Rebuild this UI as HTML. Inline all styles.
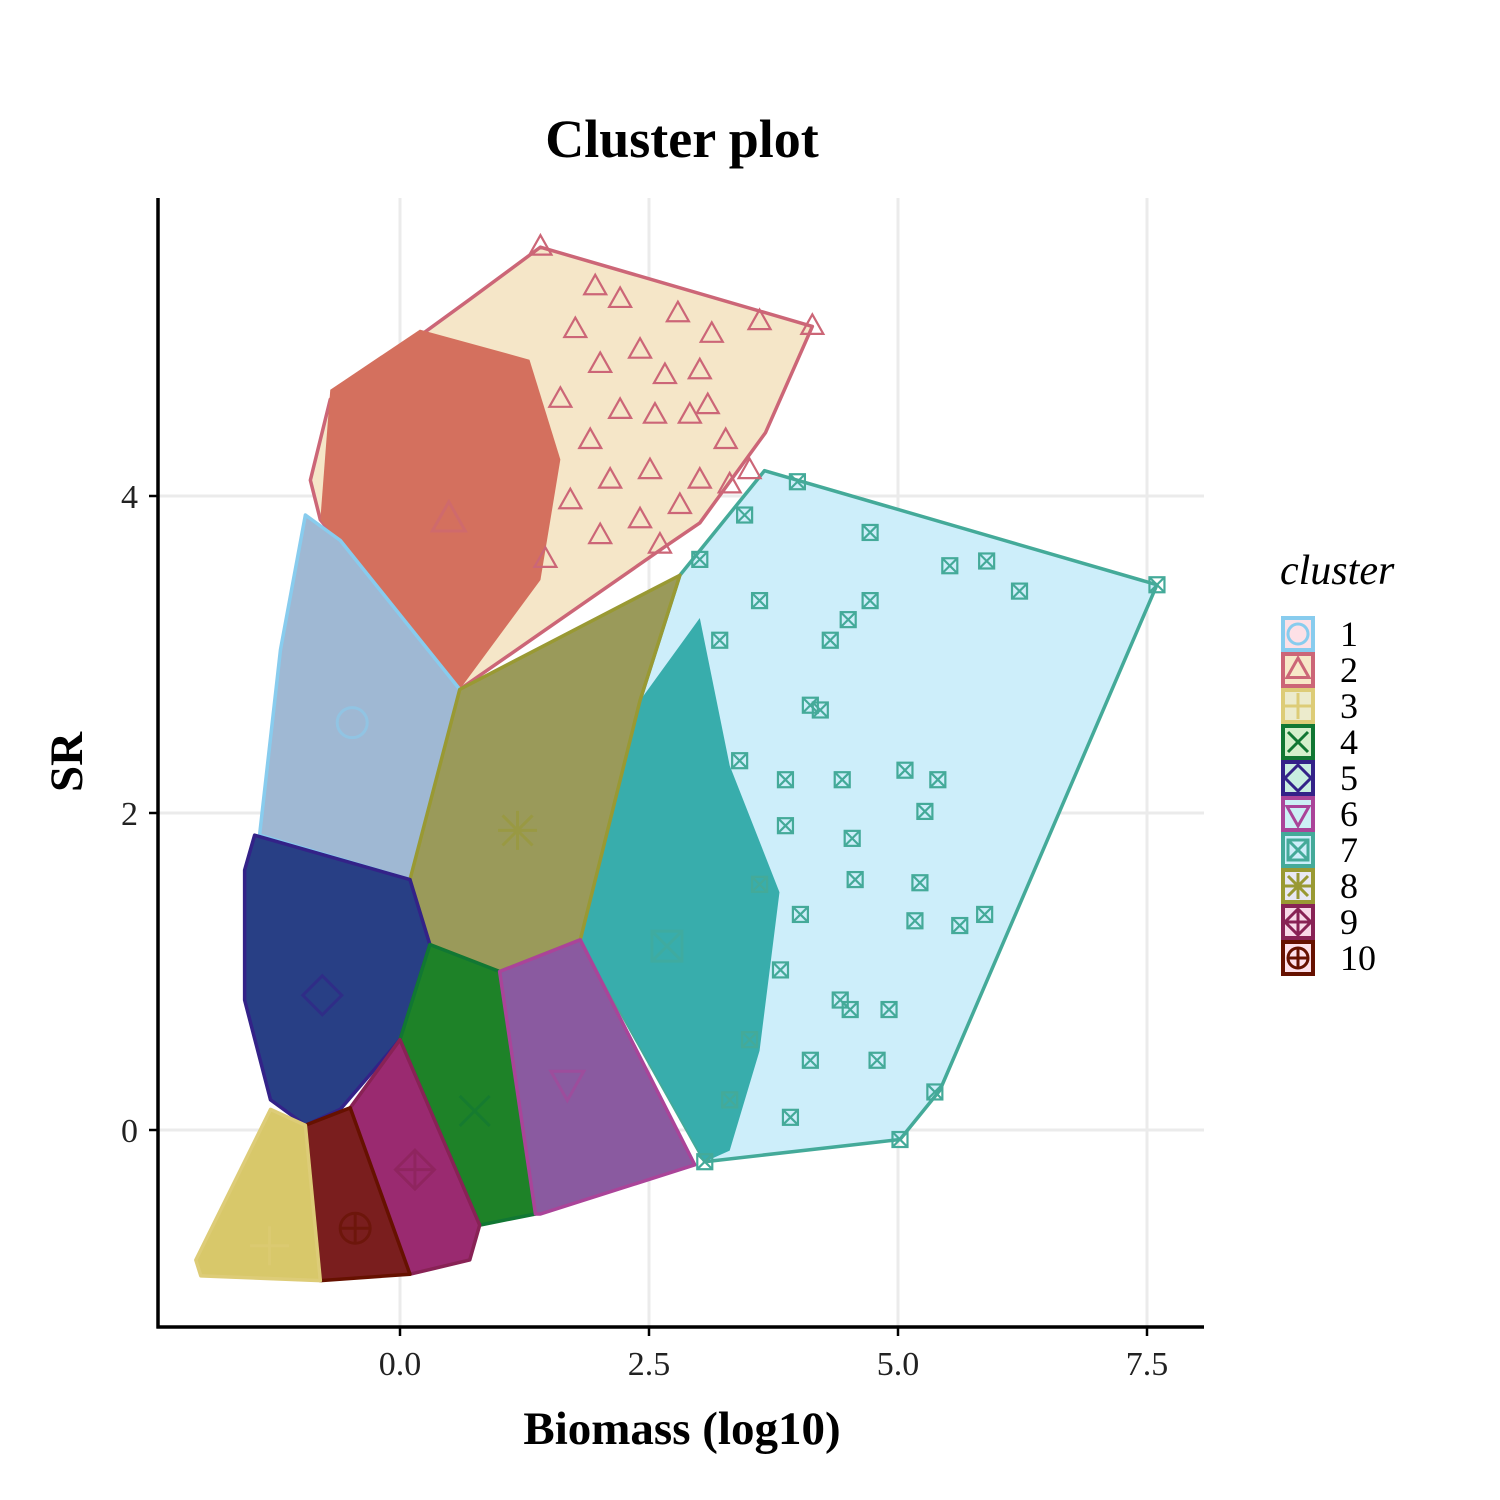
<!DOCTYPE html>
<html><head><meta charset="utf-8"><style>
html,body{margin:0;padding:0;background:#fff}
svg{display:block;font-family:"Liberation Serif",serif}
</style></head><body>
<svg id="c" width="1500" height="1500" viewBox="0 0 1500 1500" xmlns="http://www.w3.org/2000/svg">
<rect width="1500" height="1500" fill="#fff"/>
<g id="grid"></g>
<g id="hulls"></g>
<g id="pts"></g>
<g id="axes"></g>
<text x="682" y="157" text-anchor="middle" font-size="54" font-weight="bold">Cluster plot</text>
<text x="682" y="1444" text-anchor="middle" font-size="47" font-weight="bold">Biomass (log10)</text>
<text transform="translate(82,762) rotate(-90)" text-anchor="middle" font-size="47" font-weight="bold">SR</text>
<g id="legend">
<text x="1280" y="584" font-size="42" font-style="italic">cluster</text>
</g>
</svg>
<script>
const xTicks=[0,2.5,5,7.5];
const xTickLabels=["0.0","2.5","5.0","7.5"];
const yTicks=[0,2,4];
const yTickLabels=["0","2","4"];
const clusterIds=[1,2,3,4,5,6,7,8,9,10];
const edgeColors=["#88CCEE","#CC6677","#DDCC77","#117733","#332288","#AA4499","#44AA99","#999933","#882255","#661100"];
const keyFills=["#fde0e6","#f7e8c8","#ecebcc","#d5f0cc","#c8eee0","#ccf0f5","#cdeefa","#e8e8f5","#f8d8e8","#fde0ea"];
const hullFills=["#9fb8d3","#f5e6c8","#d8c86a","#1e8228","#283f85","#8a5aa0","#cdeefa","#9a9a5a","#9a2a70","#7a1e1e"];
const hull1=[[-0.95,3.88],[-0.6,3.72],[0.6,2.78],[0.1,1.58],[-1.41,1.86],[-1.2,3.03]];
const hull2=[[1.41,5.57],[4.14,5.07],[3.67,4.4],[3.01,3.83],[2.66,3.68],[0.6,2.78],[-0.8,3.85],[-0.9,4.1],[-0.7,4.61],[0,4.92],[0.7,5.24]];
const hull3=[[-0.95,0.03],[-0.8,-0.95],[-2.0,-0.92],[-2.05,-0.82],[-1.3,0.13]];
const hull4=[[0.3,1.17],[1.0,1.0],[1.36,-0.53],[0.8,-0.6],[0,0.57]];
const hull5=[[-1.46,1.86],[0.1,1.58],[0.3,1.17],[0,0.57],[-0.6,0.13],[-0.95,0.03],[-1.3,0.19],[-1.56,0.82],[-1.56,1.64]];
const hull6=[[1.0,1.0],[1.81,1.2],[2.96,-0.22],[1.41,-0.53],[1.36,-0.53]];
const hull7=[[3.66,4.16],[7.6,3.44],[5.42,0.25],[5.02,-0.06],[3.06,-0.2],[1.81,1.2],[2.41,2.71],[2.81,3.5]];
const hull8=[[0.6,2.78],[2.81,3.5],[2.41,2.71],[1.81,1.2],[1.0,1.0],[0.3,1.17],[0.1,1.58]];
const hull9=[[0.0,0.57],[0.8,-0.6],[0.7,-0.82],[0.1,-0.91],[-0.5,0.14]];
const hull10=[[-0.95,0.03],[-0.5,0.14],[0.1,-0.91],[-0.8,-0.95]];
const hulls=[hull1,hull2,hull3,hull4,hull5,hull6,hull7,hull8,hull9,hull10];
const core2=[[-0.7,4.67],[0.2,5.05],[1.3,4.86],[1.61,4.23],[1.41,3.47],[0.6,2.78],[-0.8,3.85]];
const core7=[[2.41,2.71],[3.01,3.23],[3.31,2.3],[3.81,1.5],[3.61,0.5],[3.31,-0.13],[3.06,-0.2],[1.81,1.2]];
const centX=[-0.48,0.49,-1.31,0.75,-0.78,1.68,2.68,1.18,0.15,-0.45];
const centY=[2.57,3.85,-0.73,0.12,0.85,0.3,1.16,1.89,-0.25,-0.62];
const c7x=[3.99,7.6,5.89,5.52,6.22,4.72,5.02,5.37,4.79,4.91,4.52,3.92,4.54,4.57,5.17,5.07,5.4,5.27,4.44,4.72,4.5,4.32,4.12,3.87,3.87,3.61,4.02,5.22,5.62,5.87,4.42,3.82,4.22,3.61,3.21,3.41,3.51,3.31,4.12,3.06,3.46,3.01];
const c7y=[4.09,3.44,3.59,3.56,3.4,3.77,-0.06,0.24,0.44,0.76,0.76,0.08,1.84,1.58,1.32,2.27,2.21,2.01,2.21,3.34,3.22,3.09,2.68,2.21,1.92,1.55,1.36,1.56,1.29,1.36,0.82,1.01,2.65,3.34,3.09,2.33,0.57,0.19,0.44,-0.2,3.88,3.6];
const c2x=[1.41,4.14,3.61,2.79,1.96,3.13,2.41,3.01,2.66,2.01,3.09,3.27,2.91,2.56,2.21,1.91,2.11,2.51,3.01,3.31,2.81,2.41,2.01,2.61,1.76,2.21,1.61,3.51,1.71,1.46];
const c2y=[5.57,5.07,5.1,5.15,5.32,5.02,4.92,4.79,4.76,4.83,4.57,4.35,4.51,4.51,4.54,4.35,4.1,4.16,4.1,4.07,3.94,3.85,3.75,3.69,5.05,5.24,4.61,4.16,3.97,3.6];

const X0=158,X1=1204,Y0=198,Y1=1327;
function sx(v){return 400+v*99.6;}
function sy(v){return 1130-v*158.5;}
const NS="http://www.w3.org/2000/svg";
function mk(tag,attrs,parent){const e=document.createElementNS(NS,tag);for(const k in attrs)e.setAttribute(k,attrs[k]);parent.appendChild(e);return e;}
const grid=document.getElementById('grid'),hg=document.getElementById('hulls'),pg=document.getElementById('pts'),ag=document.getElementById('axes'),lg=document.getElementById('legend');
xTicks.forEach((t,i)=>{const l=mk('line',{x1:sx(t),x2:sx(t),y1:Y0,y2:Y1,stroke:'#ebebeb','stroke-width':3},grid);

});
yTicks.forEach((t,i)=>{const l=mk('line',{x1:X0,x2:X1,y1:sy(t),y2:sy(t),stroke:'#ebebeb','stroke-width':3},grid);

});
function pstr(arr){return arr.map(p=>sx(p[0])+','+sy(p[1])).join(' ');}
const order=[6,1,0,7,4,3,5,8,9,2];
order.forEach(i=>{
 const p=mk('polygon',{points:pstr(hulls[i]),fill:hullFills[i],stroke:edgeColors[i],'stroke-width':3.5,'stroke-linejoin':'round'},hg);
 
 
 if(i===1){const c=mk('polygon',{points:pstr(core2),fill:'#d4705e',stroke:'none'},hg);
  
  }
 if(i===6){const c=mk('polygon',{points:pstr(core7),fill:'#38adac',stroke:'none'},hg);
  
  }
});
function shape(k,x,y,s,col,g,w){
 w=w||2;const a={fill:'none',stroke:col,'stroke-width':w};
 if(k===0){mk('circle',Object.assign({cx:x,cy:y,r:s},a),g);}
 else if(k===1){mk('polygon',Object.assign({points:`${x},${y-s*1.2} ${x+s*1.1},${y+s*0.75} ${x-s*1.1},${y+s*0.75}`},a),g);}
 else if(k===2){mk('path',Object.assign({d:`M${x-s*1.3} ${y}H${x+s*1.3}M${x} ${y-s*1.3}V${y+s*1.3}`},a),g);}
 else if(k===3){mk('path',Object.assign({d:`M${x-s} ${y-s}L${x+s} ${y+s}M${x+s} ${y-s}L${x-s} ${y+s}`},a),g);}
 else if(k===4){mk('polygon',Object.assign({points:`${x},${y-s*1.3} ${x+s*1.3},${y} ${x},${y+s*1.3} ${x-s*1.3},${y}`},a),g);}
 else if(k===5){mk('polygon',Object.assign({points:`${x},${y+s*1.2} ${x+s*1.1},${y-s*0.75} ${x-s*1.1},${y-s*0.75}`},a),g);}
 else if(k===6){mk('rect',Object.assign({x:x-s,y:y-s,width:2*s,height:2*s},a),g);mk('path',Object.assign({d:`M${x-s} ${y-s}L${x+s} ${y+s}M${x+s} ${y-s}L${x-s} ${y+s}`},a),g);}
 else if(k===7){mk('path',Object.assign({d:`M${x-s*1.3} ${y}H${x+s*1.3}M${x} ${y-s*1.3}V${y+s*1.3}M${x-s} ${y-s}L${x+s} ${y+s}M${x+s} ${y-s}L${x-s} ${y+s}`},a),g);}
 else if(k===8){mk('polygon',Object.assign({points:`${x},${y-s*1.3} ${x+s*1.3},${y} ${x},${y+s*1.3} ${x-s*1.3},${y}`},a),g);mk('path',Object.assign({d:`M${x-s*1.3} ${y}H${x+s*1.3}M${x} ${y-s*1.3}V${y+s*1.3}`},a),g);}
 else {mk('circle',Object.assign({cx:x,cy:y,r:s},a),g);mk('path',Object.assign({d:`M${x-s} ${y}H${x+s}M${x} ${y-s}V${y+s}`},a),g);}
}
c2x.forEach((v,i)=>{const g=mk('g',{},pg);
 
 
 shape(1,sx(v),sy(c2y[i]),10,edgeColors[1],g,2.2);});
c7x.forEach((v,i)=>{const g=mk('g',{},pg);
 
 
 shape(6,sx(v),sy(c7y[i]),7.5,edgeColors[6],g,2.2);});
centX.forEach((v,i)=>{const g=mk('g',{opacity:0.6},pg);
 
 
 shape(i,sx(v),sy(centY[i]),15,edgeColors[i],g,3);});
mk('line',{x1:X0,x2:X0,y1:Y0,y2:Y1+1.5,stroke:'#000','stroke-width':3.5},ag);
mk('line',{x1:X0-1.5,x2:X1,y1:Y1,y2:Y1,stroke:'#000','stroke-width':3.5},ag);
xTicks.forEach((t,i)=>{mk('line',{x1:sx(t),x2:sx(t),y1:Y1,y2:Y1+9,stroke:'#000','stroke-width':2.5},ag);
 const tx=mk('text',{x:sx(t),y:Y1+48,'text-anchor':'middle','font-size':34,fill:'#222'},ag);tx.textContent=xTickLabels[i];
 
 });
yTicks.forEach((t,i)=>{mk('line',{x1:X0-9,x2:X0,y1:sy(t),y2:sy(t),stroke:'#000','stroke-width':2.5},ag);
 const tx=mk('text',{x:X0-20,y:sy(t)+12,'text-anchor':'end','font-size':34,fill:'#222'},ag);tx.textContent=yTickLabels[i];
 
 });
clusterIds.forEach((id,i)=>{const y=634+i*36;const g=mk('g',{},lg);
 
 
 mk('rect',{x:1283,y:y-16,width:30,height:32,fill:keyFills[i],stroke:edgeColors[i],'stroke-width':4},g);
 shape(i,1298,y,10,edgeColors[i],g,3);
 const t=mk('text',{x:1340,y:y+12,'font-size':36},g);t.textContent=String(id);});
</script>
</body></html>
